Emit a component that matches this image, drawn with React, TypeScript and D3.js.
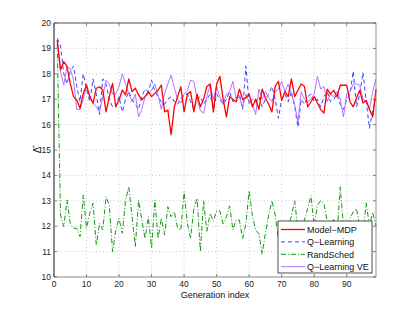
import React from "react";
import * as d3 from "d3";

const modelMDP = [19.33, 18.15, 18.48, 18.28, 17.62, 17.1, 16.97, 16.64, 17.23, 17.56,
  17.1, 16.84, 17.43, 17.49, 17.36, 16.5, 17.1, 17.62, 16.7, 16.97,
  17.36, 17.17, 17.8, 17.3, 17.43, 17.17, 16.97, 17.1, 17.3, 17.1,
  17.23, 17.36, 17.56, 16.5, 16.57, 15.6, 16.7, 17.1, 17.49, 16.5,
  17.2, 17.3, 16.5, 17.2, 16.7, 17.0, 17.5, 17.6, 16.5, 17.6,
  17.9, 17.0, 16.3, 17.1, 17.0, 16.9, 17.4, 17.0, 17.05, 17.2,
  16.7, 17.0, 16.6, 17.4, 17.05, 16.8, 16.5, 17.5, 17.7, 16.95,
  17.3, 17.1, 17.8, 17.1, 17.35, 17.6, 17.5, 16.7, 16.9, 17.1,
  16.85, 16.6, 16.45, 17.4, 17.2, 17.35, 17.1, 17.55, 17.55, 17.55,
  16.9, 16.7, 17.05, 17.35, 16.85, 16.95, 16.6, 16.3, 17.4];

const qLearning = [19.4, 19.1, 18.0, 17.6, 18.1, 18.3, 17.5, 16.9, 18.0, 17.4,
  16.9, 17.8, 17.2, 16.4, 17.8, 17.6, 17.0, 16.7, 16.7, 17.1,
  16.5, 17.0, 17.3, 17.0, 16.8, 16.6, 17.1, 17.4, 17.3, 17.75,
  17.3, 17.1, 16.9, 16.8, 17.0, 17.1, 16.9, 16.8, 17.0, 17.2,
  17.2, 16.9, 16.6, 17.0, 17.1, 16.8, 17.0, 17.2, 16.6, 17.2,
  17.0, 16.8, 17.0, 17.3, 16.9, 17.0, 17.2, 16.6, 18.3, 16.8,
  17.0, 16.9, 17.1, 16.7, 17.0, 17.2, 17.5, 17.0, 16.25, 17.0,
  17.2, 16.9, 17.3, 16.7, 15.9, 17.0, 16.8, 17.1, 17.2, 16.9,
  17.0, 16.7, 17.1, 17.3, 16.9, 17.0, 17.2, 16.8, 16.6, 17.0,
  17.2, 18.1, 16.7, 17.2, 18.05, 16.9, 15.85, 16.6, 17.0];

const randSched = [19.2, 12.44, 11.98, 13.03, 12.11, 11.92, 11.92, 11.59, 13.23, 11.92,
  12.51, 12.9, 11.26, 12.11, 11.85, 13.16, 12.83, 11.0, 11.85, 12.31,
  11.72, 13.03, 13.55, 12.37, 11.19, 13.03, 12.24, 11.52, 12.37, 11.13,
  13.03, 11.52, 12.31, 11.65, 12.77, 12.37, 12.57, 11.92, 11.85, 13.36,
  12.11, 11.52, 12.7, 13.1, 11.0, 13.0, 11.8, 12.5, 12.2, 12.6,
  12.6, 12.1, 12.37, 12.8, 11.85, 12.24, 12.24, 11.5, 12.1, 13.4,
  12.4, 11.85, 11.7, 10.9, 11.72, 12.44, 13.0, 12.44, 11.52, 11.9,
  11.9, 12.0, 12.4, 13.0, 11.85, 12.0, 12.24, 12.7, 13.2, 12.0,
  12.83, 13.0, 12.9, 12.2, 11.7, 12.3, 11.6, 13.55, 12.0, 11.7,
  12.3, 12.57, 12.7, 12.0, 11.8, 12.9, 12.0, 12.55, 12.0];

const qLearningVE = [19.3, 18.1, 17.55, 18.3, 18.2, 17.75, 16.6, 16.6, 17.0, 17.5,
  17.1, 16.85, 16.7, 16.5, 17.1, 17.75, 17.6, 17.2, 17.2, 17.5,
  18.0, 17.6, 17.2, 16.9, 17.2, 16.3, 16.6, 17.1, 17.2, 17.35,
  17.6, 17.15, 16.6, 17.2, 17.6, 17.95, 17.45, 17.0, 16.85, 17.2,
  17.35, 17.75, 17.7, 17.0, 16.55, 16.45, 17.1, 17.6, 17.0, 17.5,
  17.1, 16.8, 17.2, 17.3, 17.7, 17.0, 17.1, 16.7, 17.2, 16.9,
  16.8, 16.4, 17.4, 17.0, 17.3, 17.05, 16.9, 17.3, 17.4, 17.7,
  17.3, 17.6, 17.2, 16.8, 16.1, 17.3, 17.0, 16.9, 17.0, 17.2,
  17.9, 17.4, 17.5, 16.9, 17.2, 17.1, 17.3, 17.0, 16.3, 17.2,
  17.3, 17.6, 17.6, 17.55, 17.0, 16.9, 16.6, 17.3, 17.8];

const xTicks = [0, 10, 20, 30, 40, 50, 60, 70, 80, 90];
const yTicks = [10, 11, 12, 13, 14, 15, 16, 17, 18, 19, 20];
const seriesNames = ["Model\u2212MDP", "Q\u2212Learning", "RandSched", "Q\u2212Learning VE"];

const W = 415, H = 312;
const L = 54, R = 376, T = 23, B = 277;
const FONT = "'Liberation Sans', Arial, Helvetica, sans-serif";

export default function App() {
  const x = d3.scaleLinear().domain([0, 99]).range([L, R]);
  const y = d3.scaleLinear().domain([10, 20]).range([B, T]);
  const line = d3.line<number>().x((_, i) => x(i + 1)).y((d) => y(d));

  const series = [
    { name: seriesNames[1], data: qLearning, color: "#3344ff", width: 1, dash: "4,3" },
    { name: seriesNames[2], data: randSched, color: "#119911", width: 1, dash: "5,2,1,2" },
    { name: seriesNames[3], data: qLearningVE, color: "#b060ff", width: 0.9, dash: undefined },
    { name: seriesNames[0], data: modelMDP, color: "#ff0000", width: 1.3, dash: undefined },
  ];
  const legendSeries = [series[3], series[0], series[1], series[2]];

  const lx = 278, ly = 221, lw = 94, lh = 52;

  return (
    <div style={{ position: "absolute", left: 0, top: 0 }}>
      <svg width={W} height={H} style={{ display: "block", background: "#fff" }}>
        <rect x={0} y={0} width={W} height={H} fill="#fff" />
        {xTicks.filter((t) => t > 0).map((t) => (
          <line key={"gx" + t} x1={x(t)} x2={x(t)} y1={T} y2={B} stroke="#bdbdbd" strokeWidth={0.8} strokeDasharray="1,2.5" />
        ))}
        {yTicks.filter((t) => t > 10 && t < 20).map((t) => (
          <line key={"gy" + t} x1={L} x2={R} y1={y(t)} y2={y(t)} stroke="#bdbdbd" strokeWidth={0.8} strokeDasharray="1,2.5" />
        ))}
        {series.map((s) => (
          <path key={s.name} d={line(s.data) || ""} fill="none" stroke={s.color} strokeWidth={s.width}
            strokeDasharray={s.dash} strokeLinejoin="round" />
        ))}
        <line x1={L} x2={R} y1={T} y2={T} stroke="#222" strokeWidth={0.8} />
        <line x1={R} x2={R} y1={T} y2={B} stroke="#777" strokeWidth={0.8} />
        <line x1={L} x2={R} y1={B} y2={B} stroke="#888" strokeWidth={1.2} />
        <line x1={L} x2={L} y1={T} y2={B} stroke="#888" strokeWidth={2} />
        {xTicks.map((t) => (
          <g key={"xt" + t}>
            <line x1={x(t)} x2={x(t)} y1={B} y2={B - 3} stroke="#666" strokeWidth={0.8} />
            <line x1={x(t)} x2={x(t)} y1={T} y2={T + 3} stroke="#666" strokeWidth={0.8} />
            <text x={x(t)} y={B + 10} fontSize={8.5} fontFamily={FONT} textAnchor="middle" fill="#222">{t}</text>
          </g>
        ))}
        {yTicks.map((t) => (
          <g key={"yt" + t}>
            <line x1={L} x2={L + 3} y1={y(t)} y2={y(t)} stroke="#666" strokeWidth={0.8} />
            <line x1={R} x2={R - 3} y1={y(t)} y2={y(t)} stroke="#666" strokeWidth={0.8} />
            <text x={L - 3} y={y(t) + 3} fontSize={8.5} fontFamily={FONT} textAnchor="end" fill="#222">{t}</text>
          </g>
        ))}
        <text x={(L + R) / 2} y={298} fontSize={9} fontFamily={FONT} textAnchor="middle" fill="#111">Generation index</text>
        <text x={37} y={154} fontSize={10} fontFamily={FONT} textAnchor="middle" fill="#111"
          transform="rotate(-90 37 150)">{"\u0394\u0304"}</text>
        <rect x={lx} y={ly} width={lw} height={lh} fill="#fff" stroke="#222" strokeWidth={0.8} />
        {legendSeries.map((s, i) => {
          const yy = ly + 8.5 + i * 12.4;
          return (
            <g key={"lg" + s.name}>
              <line x1={lx + 3} x2={lx + 27} y1={yy} y2={yy} stroke={s.color} strokeWidth={s.width}
                strokeDasharray={s.dash} />
              <text x={lx + 29} y={yy + 3.2} fontSize={9} fontFamily={FONT} fill="#111">{s.name}</text>
            </g>
          );
        })}
      </svg>
    </div>
  );
}
